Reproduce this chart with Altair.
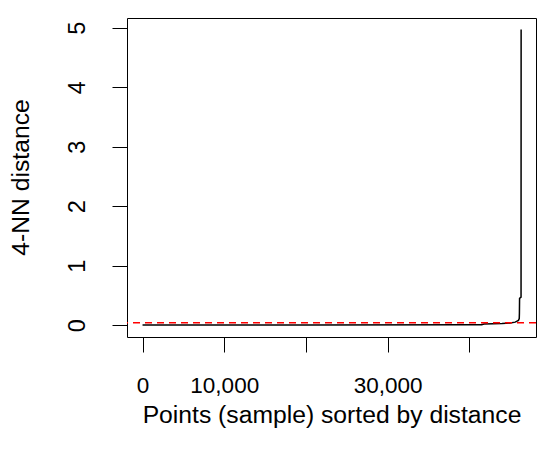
import altair as alt
import pandas as pd

# sorted 4-NN distances
point_index = [1, 20000, 40000, 41500, 41800, 44000, 45000, 45600, 46000, 46100, 46120, 46140, 46320, 46330]
knn_dist = [0.0, 0.002, 0.004, 0.008, 0.02, 0.025, 0.035, 0.05, 0.08, 0.11, 0.2, 0.45, 0.47, 4.97]
eps_value = [0.04]

x_ticks = [0, 10000, 20000, 30000, 40000]
x_labels_shown = [0, 10000, 30000]
y_ticks = [0, 1, 2, 3, 4, 5]

df = pd.DataFrame({"idx": point_index, "dist": knn_dist})
eps_df = pd.DataFrame({"eps": eps_value})

FONT = "Liberation Sans"

x_enc = alt.X(
    "idx:Q",
    scale=alt.Scale(domain=[-1900, 48150], nice=False, zero=False),
    axis=alt.Axis(
        values=x_ticks,
        labelExpr="indexof([" + ",".join(str(v) for v in x_labels_shown) + "], datum.value) >= 0 ? format(datum.value, ',d') : ''",
        title="Points (sample) sorted by distance",
        domain=False,
        grid=False,
        tickSize=15,
        tickColor="black",
        tickWidth=1,
        labelFontSize=22.5,
        labelFont=FONT,
        labelColor="black",
        labelBaseline="alphabetic",
        labelPadding=40,
        labelOverlap=False,
        labelFlush=False,
        titleFontSize=24.7,
        titleFont=FONT,
        titleFontWeight="normal",
        titleColor="black",
        titleBaseline="alphabetic",
        titleY=85,
    ),
)

y_enc = alt.Y(
    "dist:Q",
    scale=alt.Scale(domain=[-0.2, 5.163], nice=False, zero=False),
    axis=alt.Axis(
        values=y_ticks,
        format="d",
        title="4-NN distance",
        domain=False,
        grid=False,
        tickSize=15,
        tickColor="black",
        tickWidth=1,
        labelFontSize=23.5,
        labelFont=FONT,
        labelColor="black",
        labelAngle=270,
        labelAlign="center",
        labelBaseline="alphabetic",
        labelPadding=28,
        labelOverlap=False,
        labelFlush=False,
        titleFontSize=24.7,
        titleFont=FONT,
        titleFontWeight="normal",
        titleColor="black",
        titleBaseline="alphabetic",
        titleAngle=270,
        titleX=-99,
        titleY=159,
    ),
)

line = alt.Chart(df).mark_line(color="black", strokeWidth=1.5, clip=True).encode(x=x_enc, y=y_enc)

rule = alt.Chart(eps_df).mark_rule(color="#ff0000", strokeDash=[7, 5], strokeWidth=1.5).encode(
    y=alt.Y("eps:Q")
)

chart = (
    alt.layer(line, rule)
    .properties(
        width=409,
        height=319,
        autosize=alt.AutoSizeParams(type="none"),
        padding={"left": 119, "top": 10, "right": 6, "bottom": 110},
        background="white",
    )
    .configure_view(stroke="black", strokeWidth=1)
)

chart.save("out.html", embed_options={"renderer": "svg", "actions": False})
